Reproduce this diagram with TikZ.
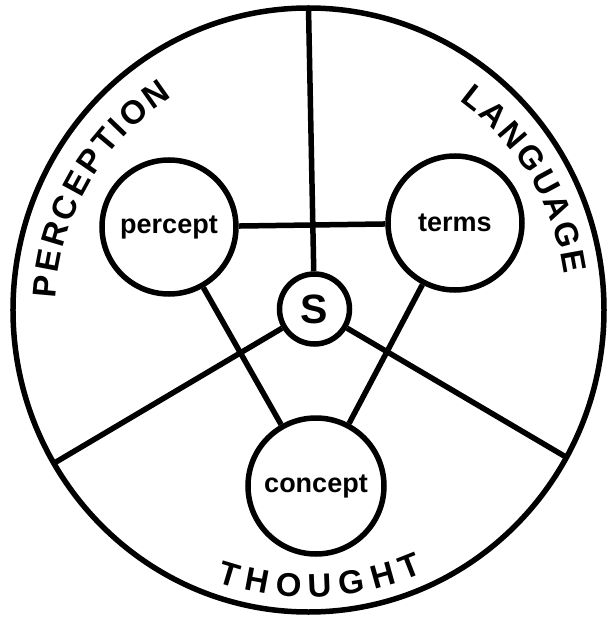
\documentclass[tikz,border=0pt]{standalone}
\usepackage{fontspec}
\setmainfont{Liberation Sans}
\usetikzlibrary{decorations.text}

\begin{document}
\begin{tikzpicture}[x=1pt,y=1pt,
  ring/.style={circle,draw,line width=5.5,minimum size=134,inner sep=0pt,
    font=\fontsize{27}{29}\selectfont\bfseries},
  spoke/.style={line width=5.5},
  rim/.style={postaction={decorate},
    decoration={text along path,text align=fit to path,text={#1}}}]
\useasboundingbox (-308.5,-308) rectangle (297.5,310);
\draw[line width=5.5] (0,0) ellipse[x radius=295.5,y radius=302];
\coordinate (top) at (90:295.5 and 302);
\coordinate (left) at (210.5:295.5 and 302);
\coordinate (right) at (330.8:295.5 and 302);
\node[ring,minimum size=70,font=\fontsize{41}{44}\selectfont\bfseries] (s) at (6,1) {S};
\node[ring] (percept) at (-139.5,83) {percept};
\node[ring] (terms) at (146.5,87) {terms};
\node[ring,minimum size=136] (concept) at (7.5,-176) {concept};
\draw[spoke] (s) -- (top);
\draw[spoke] (s) -- (left);
\draw[spoke] (s) -- (right);
\draw[spoke] (percept) -- (terms);
\draw[spoke] (percept) -- (concept);
\draw[spoke] (terms) -- (concept);
\fontsize{33}{35}\selectfont\bfseries
\path[rim=PERCEPTION] (177.4:253) arc[start angle=177.4,end angle=122.5,radius=253];
\path[rim=LANGUAGE] (54.2:258) arc[start angle=54.2,end angle=7.9,radius=258];
\path[rim=THOUGHT] (251.3:287) arc[start angle=251.3,end angle=293.6,radius=287];
\end{tikzpicture}
\end{document}
